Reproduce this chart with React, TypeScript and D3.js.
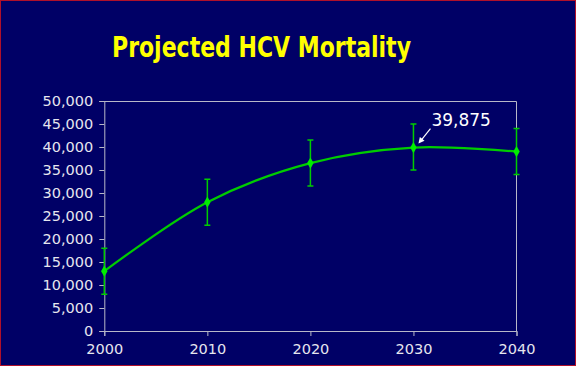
import * as d3 from "d3";
import { useEffect, useRef } from "react";

const years = [2000, 2010, 2020, 2030, 2040];
const deaths = [13000, 28000, 36500, 39875, 39000];
const errLow = [8000, 23000, 31500, 35000, 34000];
const errHigh = [18000, 33000, 41500, 45000, 44000];
const yTicks = [0, 5000, 10000, 15000, 20000, 25000, 30000, 35000, 40000, 45000, 50000];
const title = "Projected HCV Mortality";
const callout = "39,875";

const App = () => {
  const ref = useRef<SVGSVGElement>(null);

  useEffect(() => {
    document.body.style.margin = "0";
    const svg = d3.select(ref.current);
    svg.selectAll("*").remove();

    const W = 576,
      H = 366;
    const margin = { top: 101, right: 59.5, bottom: 35, left: 104.3 };
    const width = W - margin.left - margin.right,
      height = H - margin.top - margin.bottom;

    svg
      .append("rect")
      .attr("x", 0.5)
      .attr("y", 0.5)
      .attr("width", W - 1)
      .attr("height", H - 1)
      .attr("fill", "#000066")
      .attr("stroke", "#b0102a")
      .attr("stroke-width", 1);

    svg
      .append("text")
      .attr("x", 261.5)
      .attr("y", 57)
      .attr("text-anchor", "middle")
      .attr("font-family", "DejaVu Sans")
      .attr("font-weight", "bold")
      .attr("font-size", 28)
      .attr("textLength", 299)
      .attr("lengthAdjust", "spacingAndGlyphs")
      .attr("fill", "#ffff00")
      .text(title);

    const g = svg.append("g").attr("transform", `translate(${margin.left},${margin.top})`);

    const x = d3.scaleLinear().domain([2000, 2040]).range([0, width]);
    const y = d3.scaleLinear().domain([0, 50000]).range([height, 0]);

    const axisColor = "#b8b8c8";
    const labelColor = "#e6e6ee";

    // plot frame (top, right)
    g.append("path")
      .attr("d", `M0,0.5H${width}V${height}`)
      .attr("fill", "none")
      .attr("stroke", axisColor);

    const yAxis = g
      .append("g")
      .call(
        d3
          .axisLeft(y)
          .tickValues(yTicks)
          .tickSize(5)
          .tickPadding(6)
          .tickFormat((d) => d3.format(",")(d as number))
      );
    yAxis.select(".domain").attr("stroke", axisColor);
    yAxis.selectAll("line").attr("stroke", axisColor);
    yAxis
      .selectAll("text")
      .attr("fill", labelColor)
      .attr("font-family", "DejaVu Sans")
      .attr("font-size", 14.5);

    const xAxis = g
      .append("g")
      .attr("transform", `translate(0,${height})`)
      .call(
        d3
          .axisBottom(x)
          .tickValues(years)
          .tickSize(5)
          .tickPadding(8)
          .tickFormat((d) => String(d))
      );
    xAxis.select(".domain").attr("stroke", axisColor);
    xAxis.selectAll("line").attr("stroke", axisColor);
    xAxis
      .selectAll("text")
      .attr("fill", labelColor)
      .attr("font-family", "DejaVu Sans")
      .attr("font-size", 14.5);

    const data = years.map((yr, i) => ({ yr, v: deaths[i], lo: errLow[i], hi: errHigh[i] }));
    const green = "#00cc00";

    // error bars
    const eb = g.append("g").attr("stroke", green).attr("stroke-width", 1.5).attr("fill", "none");
    eb.selectAll(".eb")
      .data(data)
      .enter()
      .append("path")
      .attr(
        "d",
        (d) =>
          `M${x(d.yr)},${y(d.hi)}V${y(d.lo)}M${x(d.yr) - 3},${y(d.hi)}h6M${x(d.yr) - 3},${y(d.lo)}h6`
      );

    const line = d3
      .line<(typeof data)[0]>()
      .x((d) => x(d.yr))
      .y((d) => y(d.v))
      .curve(d3.curveCatmullRom.alpha(0.5));

    g.append("path")
      .datum(data)
      .attr("d", line)
      .attr("fill", "none")
      .attr("stroke", green)
      .attr("stroke-width", 2.2);

    g.selectAll(".pt")
      .data(data)
      .enter()
      .append("path")
      .attr("transform", (d) => `translate(${x(d.yr)},${y(d.v)})`)
      .attr("d", d3.symbol().type(d3.symbolDiamond).size(36)!)
      .attr("fill", "#00ee00");

    // callout
    const px = x(2030),
      py = y(39875);
    g.append("text")
      .attr("x", px + 18)
      .attr("y", py - 22)
      .attr("fill", "#ffffff")
      .attr("font-family", "DejaVu Sans")
      .attr("font-size", 17)
      .text(callout);

    const ax = px + 5,
      ay = py - 4;
    const bx = px + 17,
      by = py - 19;
    g.append("line")
      .attr("x1", bx)
      .attr("y1", by)
      .attr("x2", ax + 2)
      .attr("y2", ay - 2.5)
      .attr("stroke", "#ffffff")
      .attr("stroke-width", 1.2);
    const ang = Math.atan2(ay - by, ax - bx);
    const hl = 6,
      hw = 3;
    const p1 = [ax - hl * Math.cos(ang) + hw * Math.sin(ang), ay - hl * Math.sin(ang) - hw * Math.cos(ang)];
    const p2 = [ax - hl * Math.cos(ang) - hw * Math.sin(ang), ay - hl * Math.sin(ang) + hw * Math.cos(ang)];
    g.append("path")
      .attr("d", `M${ax},${ay}L${p1[0]},${p1[1]}L${p2[0]},${p2[1]}Z`)
      .attr("fill", "#ffffff");
  }, []);

  return <svg ref={ref} width={576} height={366} style={{ display: "block" }} />;
};

export default App;
